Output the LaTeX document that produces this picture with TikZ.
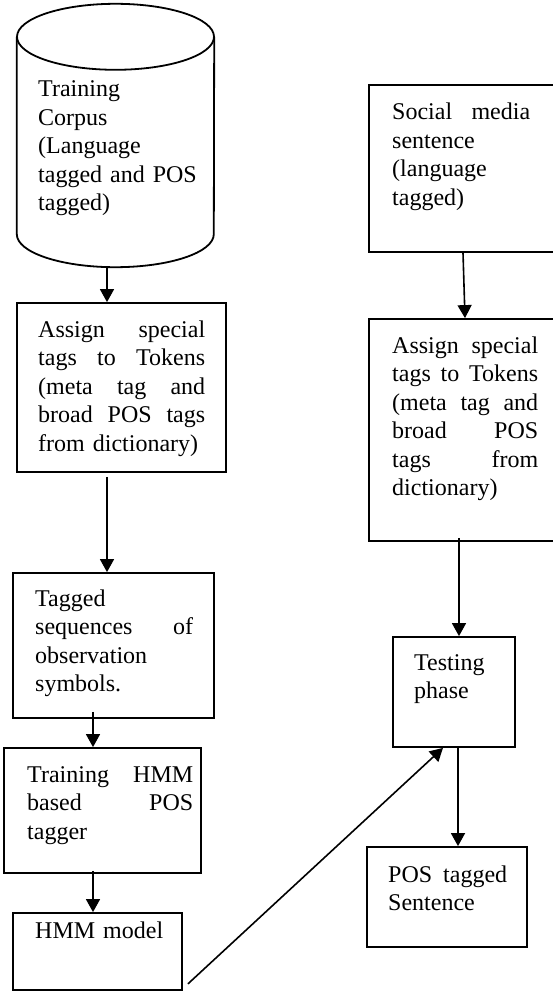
\documentclass[tikz,border=0pt]{standalone}
\usepackage{fontspec}
\setmainfont{Liberation Serif}
\usetikzlibrary{arrows.meta}
\tikzset{
  box/.style={draw, line width=1.8pt, inner sep=0pt, rectangle},
  txt/.style={anchor=base west, inner sep=0pt, align=left,
              font=\fontsize{24}{28.5}\selectfont},
  arr/.style={line width=1.6pt, -{Triangle[length=13pt,width=14pt]}},
}
\begin{document}
\begin{tikzpicture}[x=1pt,y=1pt]
\useasboundingbox (0,0) rectangle (552,-992);
\fill[white] (0,0) rectangle (552,-992);

% ---- training branch ----
% database cylinder
\node[inner sep=0pt, minimum width=197pt, minimum height=263pt] (cyl) at (115.5,-135.5) {};
\draw[line width=1.8pt] ([yshift=-33pt]cyl.north) ellipse [x radius=98.5pt, y radius=33pt];
\draw[line width=1.8pt] ([yshift=-33pt]cyl.north west) -- ([yshift=33pt]cyl.south west)
  arc[start angle=180, end angle=360, x radius=98.5pt, y radius=33pt]
  -- ([yshift=-33pt]cyl.north east);
\node[txt, text width=170pt] (tcyl) at (38,-97)
  {Training\\Corpus\\(Language\\tagged and POS\\tagged)};

\node[box, minimum width=209pt, minimum height=169pt] (b2) at (121.5,-387.5) {};
\node[txt, text width=167pt] (t2) at (38,-337)
  {Assign\hfill special\\tags\hfill to\hfill Tokens\\(meta\hfill tag\hfill and\\broad\hfill POS\hfill tags\\from dictionary)};

\node[box, minimum width=201pt, minimum height=145pt] (b3) at (113.5,-645.5) {};
\node[txt, text width=158pt] (t3) at (35,-606)
  {Tagged\\sequences\hfill of\\observation\\symbols.};

\node[box, minimum width=197pt, minimum height=125pt] (b4) at (102.5,-810.5) {};
\node[txt, text width=166pt] (t4) at (27,-782)
  {Training\hfill HMM\\based\hfill POS\\tagger};

\node[box, minimum width=169pt, minimum height=77pt] (b5) at (97.5,-951.5) {};
\node[txt, text width=140pt] (t5) at (35,-938) {HMM model};

% ---- testing branch ----
\node[box, minimum width=185pt, minimum height=167pt] (r1) at (461.5,-168.5) {};
\node[txt, text width=138pt] (tr1) at (392,-120)
  {Social\hfill media\\sentence\\(language\\tagged)};

\node[box, minimum width=185pt, minimum height=222pt] (r2) at (461.5,-430) {};
\node[txt, text width=146pt] (tr2) at (392,-353)
  {Assign\hfill special\\tags\hfill to\hfill Tokens\\(meta\hfill tag\hfill and\\broad\hfill POS\\tags\hfill from\\dictionary)};

\node[box, minimum width=122pt, minimum height=110pt] (r3) at (454,-692) {};
\node[txt, text width=95pt] (tr3) at (414,-670) {Testing\\phase};

\node[box, minimum width=160pt, minimum height=100pt] (r4) at (447,-897) {};
\node[txt, text width=130pt] (tr4) at (388,-882) {POS\hspace{3pt} tagged\\Sentence};

% ---- connectors ----
\draw[arr] ([xshift=-8.5pt]cyl.south) coordinate (a1) -- (a1 |- b2.north);
\draw[arr] ([xshift=-14.5pt,yshift=-4pt]b2.south) coordinate (a2) -- (a2 |- b3.north);
\draw[arr] ([xshift=-20.5pt,yshift=7pt]b3.south) coordinate (a3) -- (a3 |- b4.north);
\draw[arr] ([xshift=-9.5pt,yshift=3pt]b4.south) coordinate (a4) -- (a4 |- b5.north);
\draw[arr] ([xshift=5pt,yshift=7pt]b5.south east) -- ([xshift=-11pt]r3.south);

\draw[arr] ([xshift=1.5pt]r1.south) -- ([xshift=3.5pt]r2.north);
\draw[arr] ([xshift=-2.5pt,yshift=4pt]r2.south) coordinate (c2) -- (c2 |- r3.north);
\draw[arr] ([xshift=4pt]r3.south) coordinate (c3) -- (c3 |- r4.north);
\end{tikzpicture}
\end{document}
